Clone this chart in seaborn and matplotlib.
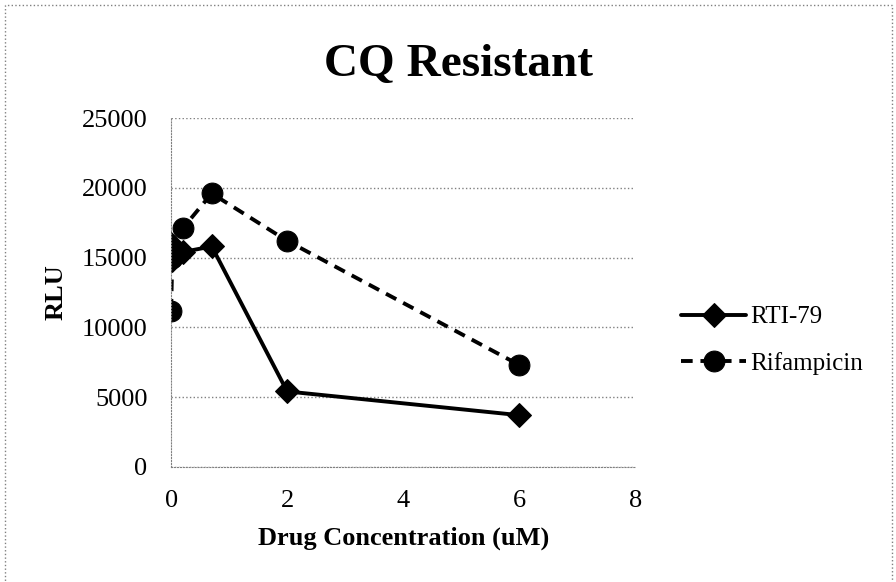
import pandas as pd
import matplotlib.pyplot as plt
import seaborn as sns
from matplotlib.patches import Rectangle

# values
rti_conc = [0, 0.02, 0.07, 0.2, 0.7, 2, 6]
rti_rlu = [16000, 14800, 15300, 15400, 15800, 5400, 3700]
rif_conc = [0, 0.02, 0.2, 0.7, 2, 6]
rif_rlu = [11200, 15000, 17100, 19600, 16200, 7300]
x_ticks = [0, 2, 4, 6, 8]
y_ticks = [0, 5000, 10000, 15000, 20000, 25000]

rti = pd.DataFrame({'conc': rti_conc, 'rlu': rti_rlu})
rif = pd.DataFrame({'conc': rif_conc, 'rlu': rif_rlu})

sns.set_style('white')
plt.rcParams['font.family'] = ['Liberation Serif', 'DejaVu Serif']
plt.rcParams['text.color'] = 'black'
plt.rcParams['axes.labelcolor'] = 'black'

fig = plt.figure(figsize=(8.96, 5.82), dpi=100)
ax = fig.add_axes([0.191, 0.198, 0.518, 0.599])

sns.lineplot(data=rti, x='conc', y='rlu', ax=ax, color='black', linewidth=2.8,
             marker='D', markersize=12, markeredgecolor='black', label='RTI-79')
sns.lineplot(data=rif, x='conc', y='rlu', ax=ax, color='black', linewidth=2.8,
             marker='o', markersize=15, markeredgecolor='black',
             linestyle=(0, (3, 2)), label='Rifampicin')

ax.set_xlim(0, 8)
ax.set_ylim(0, 25000)
ax.set_xticks(x_ticks)
ax.set_yticks(y_ticks)
ax.tick_params(labelsize=19, length=3, color='gray', labelcolor='black')
ax.tick_params(axis='y', pad=14)
ax.tick_params(axis='x', pad=14)
ax.yaxis.grid(True, linestyle=':', color='gray', linewidth=1)
ax.set_axisbelow(True)
for s in ['top', 'right']:
    ax.spines[s].set_visible(False)
for s in ['left', 'bottom']:
    ax.spines[s].set_linestyle(':')
    ax.spines[s].set_color('gray')

ax.set_xlabel('Drug Concentration (uM)', fontsize=19, fontweight='bold', labelpad=10)
ax.set_ylabel('RLU', fontsize=19, fontweight='bold', labelpad=10)
fig.text(0.512, 0.888, 'CQ Resistant', fontsize=34, fontweight='bold', ha='center', va='center')

handles, labels = ax.get_legend_handles_labels()
ax.get_legend().remove()
fig.legend(handles, labels, loc='center left', bbox_to_anchor=(0.735, 0.415),
           frameon=False, fontsize=18, handlelength=2.6, handletextpad=0.15,
           labelspacing=0.95)

fig.patches.append(Rectangle((0.006, -0.05), 0.99, 1.041, transform=fig.transFigure,
                             fill=False, linestyle=':', edgecolor='gray', linewidth=1))

plt.savefig('out.png', dpi=100)
